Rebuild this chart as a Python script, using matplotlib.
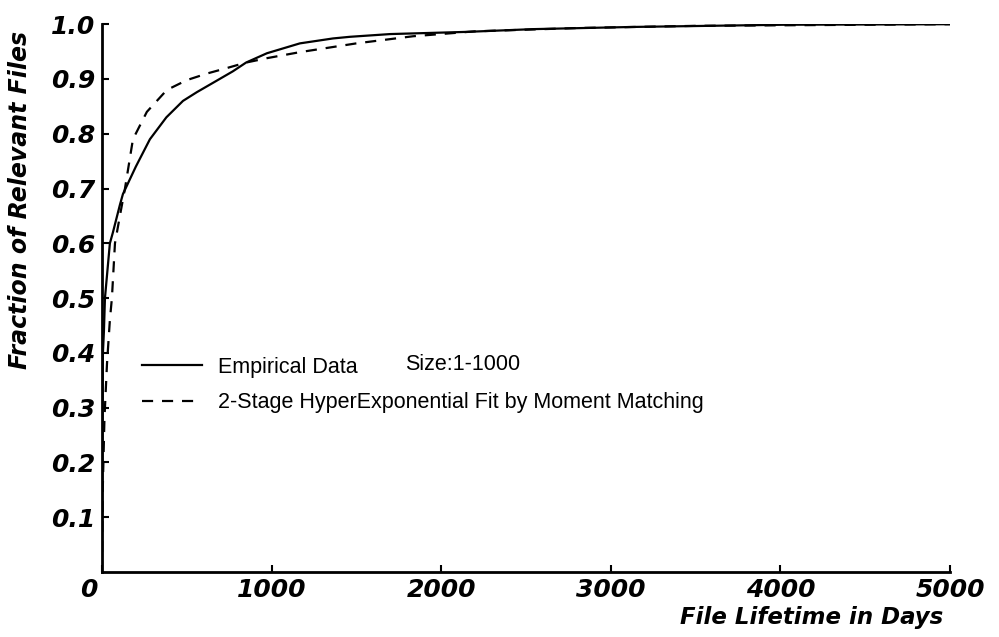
import matplotlib
matplotlib.use('Agg')
import matplotlib.pyplot as plt
import matplotlib.transforms as mtransforms

plt.rcParams['font.family'] = ['Liberation Sans', 'DejaVu Sans']

# Empirical file lifetime distribution (size 1-1000)
emp_days = [0, 3, 6, 12, 18, 47, 65, 106, 124, 200, 283, 380, 478, 560, 655,
            772, 850, 973, 1167, 1362, 1462, 1700, 2152, 2541, 3131, 4015, 5000]
emp_frac = [0.0, 0.25, 0.40, 0.44, 0.50, 0.60, 0.62, 0.67, 0.69, 0.74, 0.79,
            0.83, 0.86, 0.876, 0.893, 0.914, 0.93, 0.947, 0.965, 0.974, 0.977,
            0.982, 0.986, 0.991, 0.995, 0.999, 1.0]

# 2-stage hyperexponential fit
fit_days = [0, 5, 15, 30, 47, 59, 77, 106, 136, 183, 265, 383, 501, 620, 737,
            850, 973, 1167, 1500, 1834, 2200, 2800, 3500, 5000]
fit_frac = [0.0, 0.15, 0.28, 0.38, 0.46, 0.50, 0.60, 0.65, 0.70, 0.79, 0.84,
            0.88, 0.898, 0.91, 0.92, 0.93, 0.938, 0.949, 0.965, 0.978, 0.987,
            0.993, 0.997, 1.0]

x_ticks = [0, 1000, 2000, 3000, 4000, 5000]
x_labels = ['0', '1000', '2000', '3000', '4000', '5000']
y_ticks = [0.1, 0.2, 0.3, 0.4, 0.5, 0.6, 0.7, 0.8, 0.9, 1.0]
y_labels = ['0.1', '0.2', '0.3', '0.4', '0.5', '0.6', '0.7', '0.8', '0.9', '1.0']

fig = plt.figure(figsize=(9.99, 6.37), dpi=100)
ax = fig.add_axes([0.102, 0.102, 0.849, 0.860])

ax.plot(emp_days, emp_frac, color='black', linewidth=1.6, label='Empirical Data')
ax.plot(fit_days, fit_frac, color='black', linewidth=1.6, linestyle=(0, (5, 4)),
        label='2-Stage HyperExponential Fit by Moment Matching')

ax.set_xlim(0, 5000)
ax.set_ylim(0, 1.0)
ax.spines['top'].set_visible(False)
ax.spines['right'].set_visible(False)
ax.spines['left'].set_linewidth(2)
ax.spines['bottom'].set_linewidth(2)

# wide bold oblique face for the axis numbers and titles
wide = dict(family='DejaVu Sans', fontweight='bold', fontstyle='italic')
ax.set_xticks(x_ticks)
ax.set_xticklabels(x_labels, fontsize=18, **wide)
ax.set_yticks(y_ticks)
ax.set_yticklabels(y_labels, fontsize=18, **wide)
ax.tick_params(axis='both', direction='in', length=5, width=1.5)
ax.tick_params(axis='x', pad=4)
ax.tick_params(axis='y', pad=5)

# nudge the origin label left, clear of the y axis
zero_label = ax.get_xticklabels()[0]
shift = mtransforms.ScaledTranslation(-13 / 100, 0, fig.dpi_scale_trans)
zero_label.set_transform(zero_label.get_transform() + shift)

ax.set_xlabel('File Lifetime in Days', fontsize=16.5, loc='right', **wide)
ax.xaxis.set_label_coords(0.992, -0.062)
ax.set_ylabel('Fraction of Relevant Files', fontsize=17, **wide)
ax.yaxis.set_label_coords(-0.083, 0.68)

leg = ax.legend(loc='upper left', bbox_to_anchor=(0.047, 0.393), frameon=False,
                fontsize=15.5, handlelength=2.8, handletextpad=0.75,
                labelspacing=0.68, borderpad=0, borderaxespad=0)
ax.text(0.357, 0.378, 'Size:1-1000', transform=ax.transAxes, fontsize=15.5,
        va='center', ha='left')

plt.savefig('out.png', dpi=100)
